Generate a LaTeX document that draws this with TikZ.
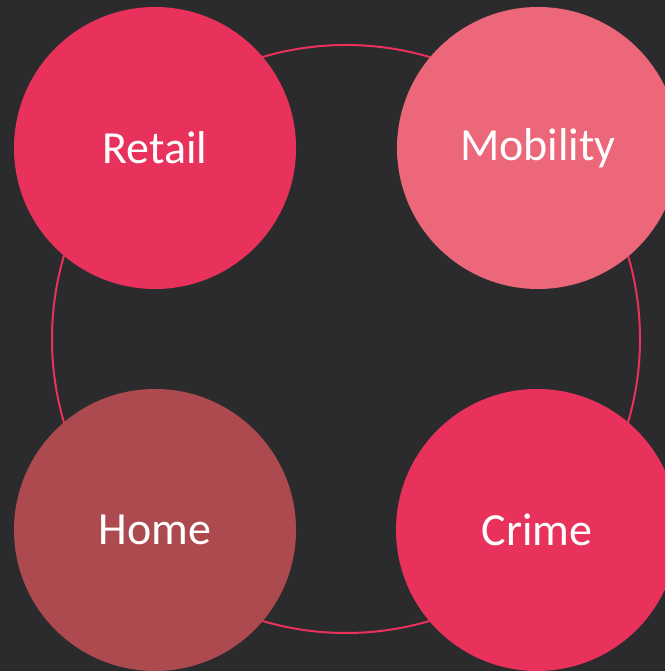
\documentclass[tikz,border=0pt]{standalone}
\usepackage{fontspec}
\setmainfont{Carlito}
\definecolor{bgdark}{HTML}{2B2B2D}
\definecolor{rosered}{HTML}{E8325C}
\definecolor{rosepale}{HTML}{EC6779}
\definecolor{rosedark}{HTML}{AD4A50}

\begin{document}
\begin{tikzpicture}[x=1pt,y=1pt]
			\tikzstyle{topic} = [circle, minimum size=282pt, inner sep=0pt, text=white, font=\fontsize{46}{50}\selectfont]
			\useasboundingbox (0,0) rectangle (665,671);
			\clip (0,0) rectangle (665,671);
			\fill [bgdark] (0,0) rectangle (665,671);
			\draw [rosered, line width=2pt] (346,332) circle (294);
			\node [topic, fill=rosered] (retail) at (155,523) {Retail};
			\node [topic, fill=rosepale] (mobility) at (538,523) {Mobility};
			\node [topic, fill=rosedark] (home) at (155,141) {Home};
			\node [topic, fill=rosered] (crime) at (537,141) {Crime};
		\end{tikzpicture}
\end{document}
